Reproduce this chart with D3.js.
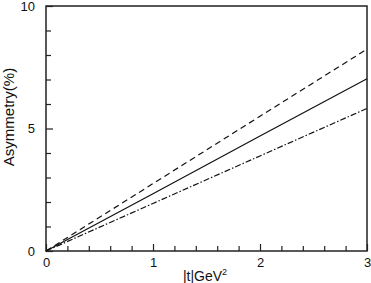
<!DOCTYPE html>
<html>
<head>
<meta charset="utf-8">
<script src="https://cdn.jsdelivr.net/npm/d3@7"></script>
<style>
  body { margin: 0; background: #fff; }
  text { font-family: "Liberation Sans", Arial, sans-serif; fill: #111; }
</style>
</head>
<body>
<svg id="chart" width="371" height="283"></svg>
<script>
// |t| values (GeV^2)
const tValues = [0, 1, 2, 3];
// asymmetry curves (%)
const dashedSeries = [0, 2.75, 5.5, 8.24];
const solidSeries = [0, 2.34, 4.69, 7.03];
const dashDotSeries = [0, 1.94, 3.88, 5.82];
const xTickLabels = [0, 1, 2, 3];
const yTickLabels = [0, 5, 10];

const margin = {top: 6, right: 4, bottom: 32, left: 46};
const width = 371 - margin.left - margin.right;
const height = 283 - margin.top - margin.bottom;

const svg = d3.select("#chart")
    .append("g")
    .attr("transform", "translate(" + margin.left + "," + margin.top + ")");

const x = d3.scaleLinear().domain([0, 3]).range([0, width]);
const y = d3.scaleLinear().domain([0, 10]).range([height, 0]);

// frame
svg.append("rect")
    .attr("width", width)
    .attr("height", height)
    .attr("fill", "none")
    .attr("stroke", "#222")
    .attr("stroke-width", 1.5);

const isMajor = (d, labels) => labels.some(v => Math.abs(v - d) < 1e-6);

// x axis, ticks pointing inward
const xAxis = d3.axisBottom(x)
    .tickValues(d3.range(0, 3.01, 0.2))
    .tickSize(0)
    .tickFormat(d => isMajor(d, xTickLabels) ? d3.format("d")(Math.round(d)) : "");

svg.append("g")
    .attr("class", "x-axis")
    .attr("transform", "translate(0," + height + ")")
    .call(xAxis);

const yAxis = d3.axisLeft(y)
    .tickValues(d3.range(0, 11, 1))
    .tickSize(0)
    .tickFormat(d => isMajor(d, yTickLabels) ? d : "");

svg.append("g")
    .attr("class", "y-axis")
    .call(yAxis);

svg.selectAll(".domain").remove();
svg.selectAll(".x-axis .tick line")
    .attr("y2", d => isMajor(d, xTickLabels) ? -7 : -5);
svg.selectAll(".y-axis .tick line")
    .attr("x2", d => isMajor(d, yTickLabels) ? 7 : 5);
svg.selectAll(".tick line").attr("stroke", "#222").attr("stroke-width", 1.2);
svg.selectAll(".x-axis .tick text").attr("y", 7)
    .style("font-size", "13px");
svg.selectAll(".y-axis .tick text").attr("x", -11)
    .style("font-size", "13px");

// curves
const line = d3.line()
    .x((d, i) => x(tValues[i]))
    .y(d => y(d));

const series = [
    {values: dashedSeries, dash: "6,4"},
    {values: solidSeries, dash: null},
    {values: dashDotSeries, dash: "6,2,1.5,2"}
];

svg.selectAll(".curve")
    .data(series)
    .enter()
    .append("path")
    .attr("class", "curve")
    .attr("d", d => line(d.values))
    .attr("fill", "none")
    .attr("stroke", "#111")
    .attr("stroke-width", 1.2)
    .attr("stroke-dasharray", d => d.dash);

// axis labels
const xl = d3.select("#chart").append("text")
    .attr("x", 205)
    .attr("y", 281)
    .attr("text-anchor", "middle")
    .style("font-size", "14px");
xl.append("tspan").text("|t|GeV");
xl.append("tspan").attr("dy", -6).style("font-size", "9px").text("2");

d3.select("#chart").append("text")
    .attr("transform", "translate(14,117) rotate(-90)")
    .attr("text-anchor", "middle")
    .style("font-size", "15px")
    .text("Asymmetry(%)");
</script>
</body>
</html>
